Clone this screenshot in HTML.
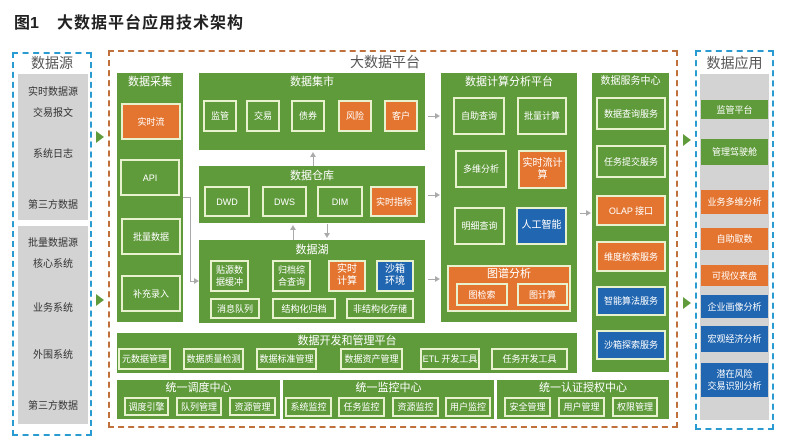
<!DOCTYPE html>
<html><head><meta charset="utf-8"><style>
*{margin:0;padding:0;box-sizing:border-box}
body{width:800px;height:447px;background:#fff;position:relative;overflow:hidden;font-family:"Liberation Sans","Noto Sans CJK SC",sans-serif}
div{position:absolute}
.g{background:#5f9a3b}
.t{color:#fff;font-size:11px;text-align:center;line-height:14px}
.b{border:2px solid #e9f2cf;color:#fff;font-size:9px;display:flex;align-items:center;justify-content:center;text-align:center;line-height:12px}
.o{background:#e37530}
.bl{background:#2166b0}
.gr{background:#d3d3d3}
.st{color:#333;font-size:10px;text-align:center;width:70px}
.ab{color:#fff;font-size:9px;display:flex;align-items:center;justify-content:center;text-align:center;line-height:12px;left:701px;width:67px}
.ln{background:#aaa}
.ar{width:0;height:0;border-top:3px solid transparent;border-bottom:3px solid transparent;border-left:5px solid #aaa}
.au{width:0;height:0;border-left:3px solid transparent;border-right:3px solid transparent;border-bottom:5px solid #aaa}
.ad{width:0;height:0;border-left:3px solid transparent;border-right:3px solid transparent;border-top:5px solid #aaa}
.ga{width:0;height:0;border-top:6px solid transparent;border-bottom:6px solid transparent;border-left:8px solid #5f9a3b}
</style></head><body>
<div style="left:14px;top:9px;font-size:16px;font-weight:bold;color:#222">图1</div>
<div style="left:57px;top:9px;font-size:16px;font-weight:bold;color:#222;letter-spacing:1px">大数据平台应用技术架构</div>

<!-- left source -->
<div style="left:12px;top:52px;width:80px;height:384px;border:2px dashed #2a9bd0"></div>
<div style="left:12px;top:53px;width:80px;text-align:center;font-size:14px;color:#555">数据源</div>
<div class="gr" style="left:18px;top:74px;width:70px;height:146px"></div>
<div class="gr" style="left:18px;top:226px;width:70px;height:198px"></div>
<div class="st" style="left:18px;top:83px">实时数据源</div>
<div class="st" style="left:18px;top:104px">交易报文</div>
<div class="st" style="left:18px;top:145px">系统日志</div>
<div class="st" style="left:18px;top:196px">第三方数据</div>
<div class="st" style="left:18px;top:234px">批量数据源</div>
<div class="st" style="left:18px;top:255px">核心系统</div>
<div class="st" style="left:18px;top:299px">业务系统</div>
<div class="st" style="left:18px;top:346px">外围系统</div>
<div class="st" style="left:18px;top:397px">第三方数据</div>
<div class="ga" style="left:96px;top:131px"></div>
<div class="ga" style="left:96px;top:294px"></div>

<!-- platform -->
<div style="left:108px;top:50px;width:570px;height:378px;border:2px dashed #c0703a"></div>
<div style="left:330px;top:52px;width:110px;text-align:center;font-size:14px;color:#555">大数据平台</div>

<!-- collect -->
<div class="g" style="left:117px;top:73px;width:66px;height:249px"></div>
<div class="t" style="left:117px;top:75px;width:66px">数据采集</div>
<div class="b o" style="left:121px;top:103px;width:60px;height:37px">实时流</div>
<div class="b" style="left:120px;top:159px;width:60px;height:37px">API</div>
<div class="b" style="left:121px;top:218px;width:60px;height:37px">批量数据</div>
<div class="b" style="left:121px;top:275px;width:60px;height:37px">补充录入</div>
<div class="ln" style="left:183px;top:197px;width:8px;height:1px"></div>
<div class="ln" style="left:190px;top:197px;width:1px;height:85px"></div>
<div class="ln" style="left:190px;top:281px;width:5px;height:1px"></div>
<div class="ar" style="left:194px;top:278px"></div>

<!-- market -->
<div class="g" style="left:199px;top:73px;width:226px;height:77px"></div>
<div class="t" style="left:199px;top:75px;width:226px">数据集市</div>
<div class="b" style="left:203px;top:100px;width:34px;height:32px">监管</div>
<div class="b" style="left:246px;top:100px;width:34px;height:32px">交易</div>
<div class="b" style="left:291px;top:100px;width:34px;height:32px">债券</div>
<div class="b o" style="left:338px;top:100px;width:34px;height:32px">风险</div>
<div class="b o" style="left:384px;top:100px;width:34px;height:32px">客户</div>

<!-- warehouse -->
<div class="au" style="left:310px;top:152px"></div>
<div class="ln" style="left:313px;top:156px;width:1px;height:10px"></div>
<div class="g" style="left:199px;top:166px;width:226px;height:57px"></div>
<div class="t" style="left:199px;top:169px;width:226px">数据仓库</div>
<div class="b" style="left:204px;top:186px;width:46px;height:31px">DWD</div>
<div class="b" style="left:262px;top:186px;width:45px;height:31px">DWS</div>
<div class="b" style="left:317px;top:186px;width:46px;height:31px">DIM</div>
<div class="b o" style="left:370px;top:186px;width:48px;height:31px">实时指标</div>
<div class="au" style="left:290px;top:225px"></div>
<div class="ln" style="left:293px;top:229px;width:1px;height:11px"></div>
<div class="ln" style="left:327px;top:224px;width:1px;height:10px"></div>
<div class="ad" style="left:324px;top:233px"></div>

<!-- lake -->
<div class="g" style="left:199px;top:240px;width:226px;height:83px"></div>
<div class="t" style="left:199px;top:243px;width:226px">数据湖</div>
<div class="b" style="left:210px;top:260px;width:39px;height:32px">贴源数<br>据缓冲</div>
<div class="b" style="left:272px;top:260px;width:39px;height:32px">归档综<br>合查询</div>
<div class="b o" style="left:328px;top:260px;width:38px;height:32px;font-size:10px">实时<br>计算</div>
<div class="b bl" style="left:376px;top:260px;width:38px;height:32px;font-size:10px">沙箱<br>环境</div>
<div class="b" style="left:210px;top:298px;width:50px;height:21px">消息队列</div>
<div class="b" style="left:272px;top:298px;width:64px;height:21px">结构化归档</div>
<div class="b" style="left:346px;top:298px;width:68px;height:21px">非结构化存储</div>

<div class="ln" style="left:428px;top:116px;width:8px;height:1px"></div><div class="ar" style="left:435px;top:113px"></div>
<div class="ln" style="left:428px;top:195px;width:8px;height:1px"></div><div class="ar" style="left:435px;top:192px"></div>
<div class="ln" style="left:428px;top:279px;width:8px;height:1px"></div><div class="ar" style="left:435px;top:276px"></div>

<!-- calc -->
<div class="g" style="left:441px;top:73px;width:136px;height:249px"></div>
<div class="t" style="left:441px;top:75px;width:136px">数据计算分析平台</div>
<div class="b" style="left:453px;top:97px;width:52px;height:38px">自助查询</div>
<div class="b" style="left:517px;top:97px;width:50px;height:38px">批量计算</div>
<div class="b" style="left:455px;top:150px;width:52px;height:38px">多维分析</div>
<div class="b o" style="left:518px;top:150px;width:49px;height:39px;font-size:10px">实时流计<br>算</div>
<div class="b" style="left:454px;top:207px;width:51px;height:38px">明细查询</div>
<div class="b bl" style="left:516px;top:207px;width:51px;height:38px;font-size:10px">人工智能</div>
<div class="b o" style="left:447px;top:265px;width:124px;height:47px;align-items:flex-start;padding-top:1px;font-size:11px">图谱分析</div>
<div class="b o" style="left:456px;top:283px;width:52px;height:23px">图检索</div>
<div class="b o" style="left:517px;top:283px;width:51px;height:23px">图计算</div>
<div class="ln" style="left:580px;top:213px;width:7px;height:1px"></div><div class="ar" style="left:586px;top:210px"></div>

<!-- service -->
<div class="g" style="left:592px;top:73px;width:77px;height:299px"></div>
<div class="t" style="left:592px;top:75px;width:77px;font-size:10px">数据服务中心</div>
<div class="b" style="left:596px;top:97px;width:70px;height:33px">数据查询服务</div>
<div class="b" style="left:596px;top:145px;width:70px;height:33px">任务提交服务</div>
<div class="b o" style="left:596px;top:195px;width:70px;height:31px">OLAP 接口</div>
<div class="b o" style="left:596px;top:241px;width:70px;height:31px">维度检索服务</div>
<div class="b bl" style="left:596px;top:286px;width:70px;height:30px">智能算法服务</div>
<div class="b bl" style="left:596px;top:330px;width:70px;height:30px">沙箱探索服务</div>

<!-- dev platform -->
<div class="g" style="left:117px;top:333px;width:460px;height:40px"></div>
<div class="t" style="left:117px;top:334px;width:460px">数据开发和管理平台</div>
<div class="b" style="left:118px;top:348px;width:53px;height:22px">元数据管理</div>
<div class="b" style="left:183px;top:348px;width:61px;height:22px">数据质量检测</div>
<div class="b" style="left:256px;top:348px;width:61px;height:22px">数据标准管理</div>
<div class="b" style="left:340px;top:348px;width:63px;height:22px">数据资产管理</div>
<div class="b" style="left:420px;top:348px;width:60px;height:22px">ETL 开发工具</div>
<div class="b" style="left:491px;top:348px;width:77px;height:22px">任务开发工具</div>

<!-- bottom -->
<div class="g" style="left:117px;top:380px;width:163px;height:39px"></div>
<div class="t" style="left:117px;top:381px;width:163px">统一调度中心</div>
<div class="b" style="left:124px;top:397px;width:45px;height:19px">调度引擎</div>
<div class="b" style="left:176px;top:397px;width:46px;height:19px">队列管理</div>
<div class="b" style="left:229px;top:397px;width:47px;height:19px">资源管理</div>
<div class="g" style="left:283px;top:380px;width:211px;height:39px"></div>
<div class="t" style="left:283px;top:381px;width:211px">统一监控中心</div>
<div class="b" style="left:285px;top:397px;width:47px;height:20px">系统监控</div>
<div class="b" style="left:338px;top:397px;width:47px;height:20px">任务监控</div>
<div class="b" style="left:392px;top:397px;width:47px;height:20px">资源监控</div>
<div class="b" style="left:445px;top:397px;width:46px;height:20px">用户监控</div>
<div class="g" style="left:497px;top:380px;width:172px;height:39px"></div>
<div class="t" style="left:497px;top:381px;width:172px">统一认证授权中心</div>
<div class="b" style="left:504px;top:397px;width:47px;height:20px">安全管理</div>
<div class="b" style="left:558px;top:397px;width:47px;height:20px">用户管理</div>
<div class="b" style="left:612px;top:397px;width:46px;height:20px">权限管理</div>

<!-- right apps -->
<div class="ga" style="left:683px;top:134px"></div>
<div class="ga" style="left:683px;top:297px"></div>
<div style="left:695px;top:50px;width:79px;height:380px;border:2px dashed #2a9bd0"></div>
<div style="left:695px;top:53px;width:79px;text-align:center;font-size:14px;color:#555">数据应用</div>
<div class="gr" style="left:700px;top:74px;width:69px;height:346px"></div>
<div class="ab g" style="top:100px;height:19px">监管平台</div>
<div class="ab g" style="top:139px;height:26px">管理驾驶舱</div>
<div class="ab o" style="top:190px;height:24px">业务多维分析</div>
<div class="ab o" style="top:228px;height:22px">自助取数</div>
<div class="ab o" style="top:265px;height:21px">可视仪表盘</div>
<div class="ab bl" style="top:295px;height:23px">企业画像分析</div>
<div class="ab bl" style="top:326px;height:26px">宏观经济分析</div>
<div class="ab bl" style="top:363px;height:34px">潜在风险<br>交易识别分析</div>
</body></html>
